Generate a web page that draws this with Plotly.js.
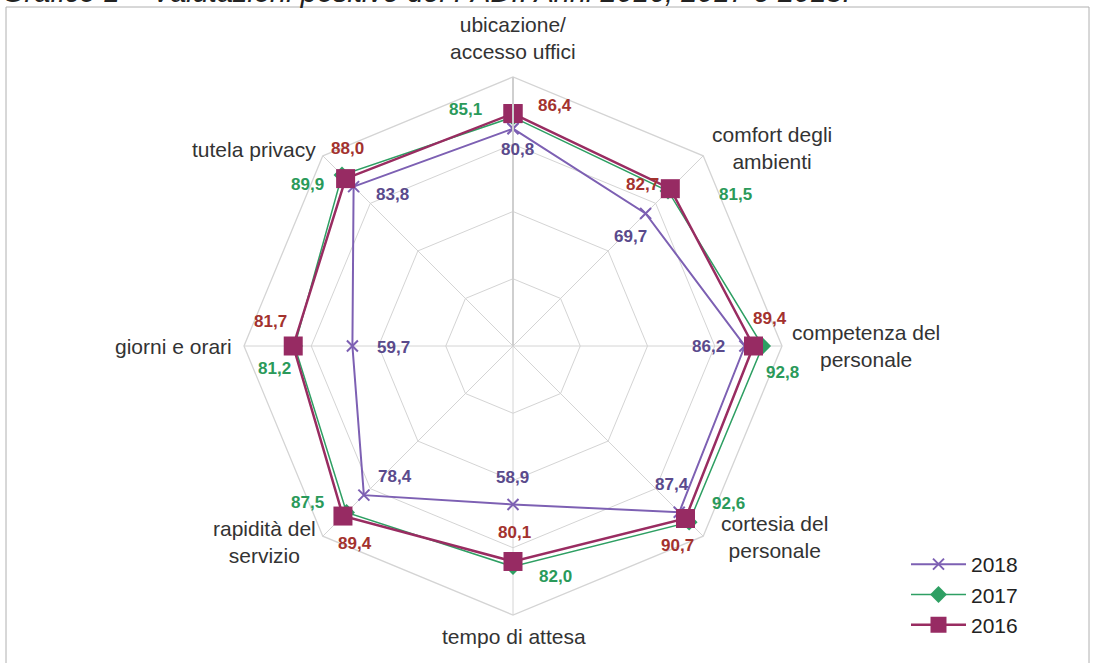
<!DOCTYPE html>
<html><head><meta charset="utf-8">
<script src="https://cdn.plot.ly/plotly-3.0.1.min.js"></script>
<style>body{margin:0;background:#fff}#c{width:1093px;height:663px}</style>
</head><body><div id="c"></div>
<script>
var categories = ["ubicazione/<br>accesso uffici","comfort degli<br>ambienti","competenza del<br>personale","cortesia del<br>personale","tempo di attesa","rapidità del<br>servizio","giorni e orari","tutela privacy"];
var years = ["2018","2017","2016"];
var v2018 = [80.8, 69.7, 86.2, 87.4, 58.9, 78.4, 59.7, 83.8];
var v2017 = [85.1, 81.5, 92.8, 92.6, 82.0, 87.5, 81.2, 89.9];
var v2016 = [86.4, 82.7, 89.4, 90.7, 80.1, 89.4, 81.7, 88.0];
var radialTicks = [0, 25, 50, 75, 100];

var W = 1093, H = 663;
function px(x){return x/W;} function py(y){return 1-y/H;}

// label positions (pixels) for category names and data labels
var catPos = [[513,38],[772,148],[866,346],[774,537],[514,636],[264,542],[173,346],[254,150]];
var lab2018 = [[517,150],[630,236],[708,346],[672,484],[512,477],[395,476],[393,347],[392,194]];
var lab2017 = [[465,110],[735,194],[782,372],[728,503],[555,576],[307,502],[274,368],[307,184]];
var lab2016 = [[555,105],[642,184],[770,318],[678,545],[514,532],[355,543],[270,321],[347,148]];

var lineCol = {"2018":"#7D60B3","2017":"#2E9F63","2016":"#992C61"};
var textCol = {"2018":"#5A4A8C","2017":"#2A9A5A","2016":"#A3322E"};

function closed(a){return a.concat([a[0]]);}
var theta = closed(categories);

var traces = [
 {type:"scatterpolar", name:"2018", r:closed(v2018), theta:theta, mode:"lines+markers",
  line:{color:lineCol["2018"], width:2}, marker:{symbol:"x-thin", size:11, line:{color:lineCol["2018"], width:2}}},
 {type:"scatterpolar", name:"2017", r:closed(v2017), theta:theta, mode:"lines+markers",
  line:{color:lineCol["2017"], width:1.5}, marker:{symbol:"diamond", size:13, color:lineCol["2017"]}},
 {type:"scatterpolar", name:"2016", r:closed(v2016), theta:theta, mode:"lines+markers",
  line:{color:lineCol["2016"], width:2.5}, marker:{symbol:"square", size:19, color:"#972B63"}}
];

function fmt(v){return v.toFixed(1).replace(".",",");}
var ann = [];
categories.forEach(function(c,i){
  ann.push({xref:"paper",yref:"paper",x:px(catPos[i][0]),y:py(catPos[i][1]),text:c,showarrow:false,
    xanchor:"center",yanchor:"middle",font:{family:"Liberation Sans, Arial, sans-serif",size:21,color:"#333"}});
});
[[v2018,lab2018,"2018"],[v2017,lab2017,"2017"],[v2016,lab2016,"2016"]].forEach(function(s){
  s[0].forEach(function(v,i){
    ann.push({xref:"paper",yref:"paper",x:px(s[1][i][0]),y:py(s[1][i][1]),text:"<b>"+fmt(v)+"</b>",showarrow:false,
      xanchor:"center",yanchor:"middle",font:{family:"Liberation Sans, Arial, sans-serif",size:17,color:textCol[s[2]]}});
  });
});
ann.push({xref:"paper",yref:"paper",x:0,y:py(-8),xanchor:"left",yanchor:"middle",showarrow:false,
  text:"<i>Grafico 1 – Valutazioni positive dei PADI. Anni 2016, 2017 e 2018.</i>",
  font:{family:"Liberation Sans, Arial, sans-serif",size:29,color:"#222"}});

var layout = {
  width:W, height:H, margin:{l:0,r:0,t:0,b:0}, paper_bgcolor:"#fff",
  showlegend:true,
  legend:{x:px(906),y:py(544),xanchor:"left",yanchor:"top",font:{family:"Liberation Sans, Arial, sans-serif",size:21,color:"#222"},
    bgcolor:"rgba(0,0,0,0)",itemwidth:55,traceorder:"normal"},
  polar:{
    domain:{x:[px(244),px(782)],y:[py(615),py(77)]},
    bgcolor:"#fff", gridshape:"linear",
    radialaxis:{range:[0,100],tickvals:radialTicks,showticklabels:false,ticks:"",angle:90,
      showline:true,linecolor:"#cfcfcf",linewidth:2,gridcolor:"#d4d4d4",gridwidth:1.3},
    angularaxis:{rotation:90,direction:"clockwise",showticklabels:false,ticks:"",
      showline:true,linecolor:"#d4d4d4",linewidth:1.3,gridcolor:"#d4d4d4",gridwidth:1.3}
  },
  shapes:[{type:"rect",xref:"paper",yref:"paper",x0:px(6),x1:px(1089),y0:py(700),y1:py(7),line:{color:"#b0b0b0",width:1}}],
  annotations:ann
};
Plotly.newPlot("c", traces, layout, {displayModeBar:false});
</script></body></html>
